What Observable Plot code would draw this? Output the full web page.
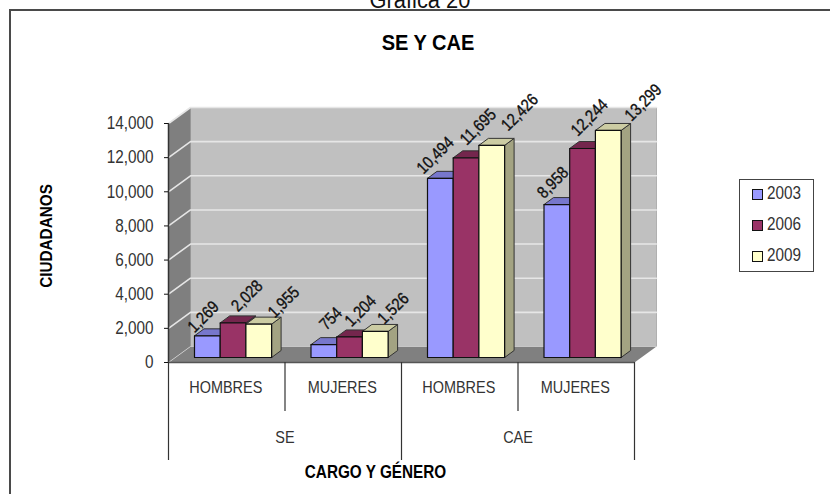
<!DOCTYPE html>
<html><head><meta charset="utf-8">
<script src="https://cdn.jsdelivr.net/npm/d3@7"></script>
<script src="https://cdn.jsdelivr.net/npm/@observablehq/plot@0.6"></script>
<style>
html,body{margin:0;padding:0;background:#fff;overflow:hidden}
#page{position:relative;width:830px;height:494px;overflow:hidden;font-family:"Liberation Sans",sans-serif}
#border{position:absolute;left:9px;top:9px;width:840px;height:510px;border:2px solid #4a4a4a;box-sizing:border-box}
#caption{position:absolute;left:0;width:840px;top:-13px;text-align:center;font-size:23px;color:#111;transform:scaleX(.95)}
#title{position:absolute;left:328px;width:200px;top:30px;text-align:center;font-weight:bold;font-size:22px;color:#000;transform:scaleX(.91)}
#chart{position:absolute;left:0;top:0}
#legend{position:absolute;left:739px;top:179px;width:75px;height:93px;border:1.5px solid #444;box-sizing:border-box;background:#fff;color:#333;font-size:18px}
#legend div{position:absolute;left:12px;height:14px;line-height:14px;white-space:nowrap}
#legend i{position:absolute;left:0;top:1px;width:9px;height:9px;border:1.2px solid #111}
#legend span{position:absolute;left:15px;top:-2px;display:block;transform:scaleX(.85);transform-origin:left center}
</style></head><body>
<div id="page"><div id="caption">Gráfica 20</div><div id="border"></div><div id="title">SE Y CAE</div><div id="chart"></div><div id="legend"></div></div>
<script>
const years = ["2003","2006","2009"];
const groups = ["HOMBRES","MUJERES","HOMBRES","MUJERES"];
const parents = ["SE","CAE"];
const values2003 = [1269,754,10494,8958];
const values2006 = [2028,1204,11695,12244];
const values2009 = [1955,1526,12426,13299];
const yTicks = [0,2000,4000,6000,8000,10000,12000,14000];

const fronts = ["#9999FF","#993366","#FFFFCC"];
const tops = ["#7777CC","#74264D","#CCCCA3"];
const sides = ["#6F6FB8","#6B2347","#A3A382"];

const W=830,H=494,mL=168,mR=196,mT=123,mB=132;
const pxX=(W-mL-mR)/4, pxY=(H-mT-mB)/14000;
const ux=p=>p/pxX, uy=p=>p/pxY;
const wallDx=ux(22), wallDy=uy(16), barDx=ux(9.5), barDy=uy(7), baseDy=uy(5), start=ux(26), bw=ux(25.7);

const poly=(pts,fill,stroke="none",sw=1)=>Plot.line([...pts,pts[0]].map(([x,y])=>({x,y})),{x:"x",y:"y",fill,stroke,strokeWidth:sw});

const series=[values2003,values2006,values2009];
const marks=[];
marks.push(poly([[wallDx,wallDy],[4+wallDx,wallDy],[4+wallDx,14000+wallDy],[wallDx,14000+wallDy]],"#C0C0C0","#B0B0B0"));
marks.push(poly([[0,0],[wallDx,wallDy],[wallDx,14000+wallDy],[0,14000]],"#7F7F7F"));
marks.push(poly([[0,0],[4,0],[4+wallDx,wallDy],[wallDx,wallDy]],"#808080"));
for(const t of yTicks){
  marks.push(Plot.line([[0,t],[wallDx,t+wallDy],[4+wallDx,t+wallDy]].map(([x,y])=>({x,y})),{x:"x",y:"y",stroke:"#E6E6E6",strokeWidth:t?1.6:1,strokeOpacity:t?1:.6}));
}
marks.push(Plot.ruleX([0],{y1:0,y2:14000,stroke:"#333",strokeWidth:1.5}));
marks.push(Plot.ruleY([0],{x1:0,x2:4,stroke:"#555",strokeWidth:1.5}));
groups.forEach((g,i)=>{
  series.forEach((vals,s)=>{
    const x0=i+start+s*bw,x1=x0+bw,y0=baseDy,y1=baseDy+vals[i];
    marks.push(poly([[x1,y0],[x1+barDx,y0+barDy],[x1+barDx,y1+barDy],[x1,y1]],sides[s],"#333",1));
    marks.push(poly([[x0,y1],[x1,y1],[x1+barDx,y1+barDy],[x0+barDx,y1+barDy]],tops[s],"#333",1));
    marks.push(poly([[x0,y0],[x1,y0],[x1,y1],[x0,y1]],fronts[s],"#111",1.2));
  });
});
const nudges=[[[-4,-19],[14,-27],[25,-22]],[[7,-26],[11,-26],[18,-23]],[[-5,-23],[12,-31],[28,-33]],[[-4,-22],[7,-31],[35,-28]]];
const fmt=d3.format(",");
groups.forEach((g,i)=>series.forEach((vals,s)=>{
  marks.push(Plot.text([vals[i]],{x:()=>i+start+(s+.5)*bw,y:d=>baseDy+d,text:d=>fmt(d),rotate:-45,dx:nudges[i][s][0],dy:nudges[i][s][1],fontSize:17,fill:"#111",stroke:"#111",strokeWidth:.35}));
}));
[0,1,2,3,4].forEach(x=>marks.push(Plot.ruleX([x],{y1:0,y2:-uy(x%2?49:98),stroke:"#333",strokeWidth:1.2})));
marks.push(Plot.text(groups,{x:(d,i)=>i+.5,y:()=>-uy(25),text:d=>d,dx:-1,fontSize:17,fill:"#333"}));
marks.push(Plot.text(parents,{x:(d,i)=>1+2*i,y:()=>-uy(75),text:d=>d,fontSize:17,fill:"#333"}));
marks.push(Plot.axisY({ticks:yTicks,tickFormat:d=>fmt(d),tickSize:4,tickPadding:11,label:null,fontSize:18,color:"#333",stroke:"#111"}));
marks.push(Plot.text(["CIUDADANOS"],{frameAnchor:"left",textAnchor:"middle",dx:-122,dy:-7,rotate:-90,fontWeight:"bold",fontSize:17,fill:"#000"}));
marks.push(Plot.text(["CARGO Y GÉNERO"],{frameAnchor:"bottom",dx:-26,dy:115,fontWeight:"bold",fontSize:18,fill:"#000"}));

const plot=Plot.plot({width:W,height:H,marginLeft:mL,marginRight:mR,marginTop:mT,marginBottom:mB,
  x:{type:"linear",domain:[0,4],axis:null},
  y:{type:"linear",domain:[0,14000],axis:null},
  style:{background:"transparent",fontFamily:'"Liberation Sans",sans-serif',overflow:"visible"},
  marks});
document.getElementById("chart").append(plot);
plot.querySelectorAll("text").forEach(t=>{
  const len=t.getComputedTextLength();
  const k=t.textContent==="CIUDADANOS"?.9:.85;
  t.setAttribute("textLength",len*k);
  t.setAttribute("lengthAdjust","spacingAndGlyphs");
});

const lg=document.getElementById("legend");
years.forEach((y,i)=>{
  const d=document.createElement("div");
  d.style.top=(8+i*31)+"px";
  d.innerHTML=`<i style="background:${fronts[i]}"></i><span>${y}</span>`;
  lg.append(d);
});
</script></body></html>
